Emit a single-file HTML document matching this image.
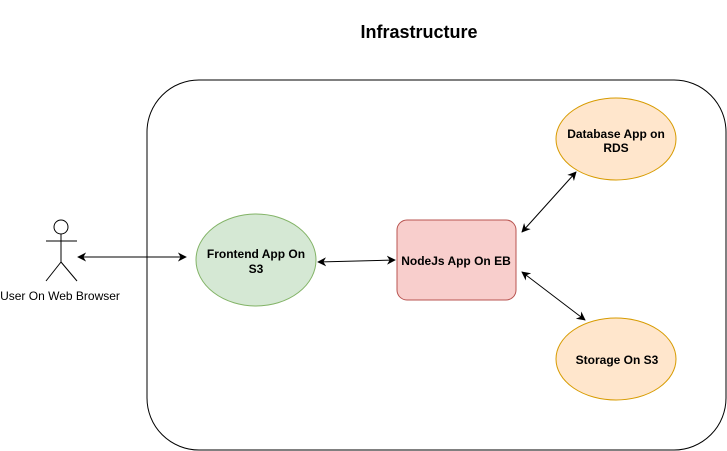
<!DOCTYPE html>
<html><head><meta charset="utf-8"><style>html,body{margin:0;padding:0;background:#fff;overflow:hidden}svg{display:block}</style></head>
<body>
<svg width="727" height="451" viewBox="0 0 727 451" xmlns="http://www.w3.org/2000/svg" font-family="Liberation Sans, Arial, sans-serif">
<defs>
<marker id="a" viewBox="0 0 10 10" refX="9" refY="5" markerWidth="9" markerHeight="9" orient="auto-start-reverse" markerUnits="userSpaceOnUse"><path d="M0,0 L10,5 L0,10 L3,5 Z" fill="#000"/></marker>
</defs>
<rect x="147" y="80" width="579" height="370" rx="52" fill="#fff" stroke="#000" stroke-width="1"/>
<text x="419" y="38" text-anchor="middle" font-weight="bold" font-size="18">Infrastructure</text>
<circle cx="61" cy="227" r="7" fill="#fff" stroke="#000"/>
<line x1="61" y1="234" x2="61" y2="262" stroke="#000"/>
<line x1="46" y1="241" x2="77" y2="241" stroke="#000"/>
<line x1="61" y1="262" x2="46" y2="281" stroke="#000"/>
<line x1="61" y1="262" x2="77" y2="281" stroke="#000"/>
<text x="60" y="300" text-anchor="middle" font-size="12">User On Web Browser</text>
<ellipse cx="256" cy="260" rx="60" ry="46" fill="#d5e8d4" stroke="#82b366"/>
<text x="256" y="258" text-anchor="middle" font-weight="bold" font-size="12">Frontend App On</text>
<text x="256" y="273" text-anchor="middle" font-weight="bold" font-size="12">S3</text>
<rect x="397" y="220" width="119" height="80" rx="10" fill="#f8cecc" stroke="#b85450"/>
<text x="456" y="265" text-anchor="middle" font-weight="bold" font-size="12">NodeJs App On EB</text>
<ellipse cx="616" cy="139" rx="60" ry="41" fill="#ffe6cc" stroke="#d79b00"/>
<text x="616" y="138" text-anchor="middle" font-weight="bold" font-size="12">Database App on</text>
<text x="616" y="152" text-anchor="middle" font-weight="bold" font-size="12">RDS</text>
<ellipse cx="616" cy="359" rx="60" ry="41" fill="#ffe6cc" stroke="#d79b00"/>
<text x="617" y="364" text-anchor="middle" font-weight="bold" font-size="12">Storage On S3</text>
<line x1="78" y1="257" x2="186" y2="257" stroke="#000" marker-start="url(#a)" marker-end="url(#a)"/>
<line x1="318" y1="262" x2="395" y2="260" stroke="#000" marker-start="url(#a)" marker-end="url(#a)"/>
<line x1="522" y1="232" x2="576" y2="172" stroke="#000" marker-start="url(#a)" marker-end="url(#a)"/>
<line x1="522" y1="272" x2="585" y2="320" stroke="#000" marker-start="url(#a)" marker-end="url(#a)"/>
</svg>
</body></html>
